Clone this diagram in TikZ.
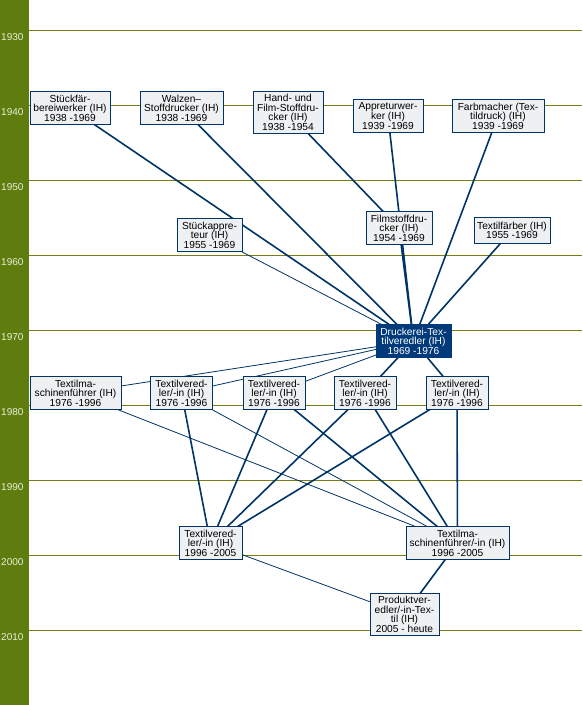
\documentclass[tikz,border=0pt]{standalone}
\usepackage{fontspec}
\setmainfont{Liberation Sans}
\usetikzlibrary{backgrounds}
\definecolor{barolive}{RGB}{95,125,15}
\definecolor{yearline}{RGB}{120,125,20}
\definecolor{yeartext}{RGB}{232,238,215}
\definecolor{jobblue}{RGB}{0,51,102}
\definecolor{jobfill}{RGB}{238,240,242}
\definecolor{mainjob}{RGB}{0,58,122}

\tikzset{
  job/.style={draw=jobblue, fill=jobfill, line width=0.8pt, align=center,
    inner xsep=2.5pt, inner ysep=3.2pt, font=\fontsize{10.2}{9.6}\selectfont},
  focusjob/.style={job, draw=mainjob, fill=mainjob, text=white},
  yearlabel/.style={anchor=west, inner sep=1pt, text=yeartext, font=\fontsize{10}{9.6}\selectfont},
  strong/.style={draw=jobblue, line width=1.6pt},
  weak/.style={draw=jobblue, line width=0.8pt},
}

\begin{document}
\begin{tikzpicture}[x=1pt, y=-1pt]
    \useasboundingbox (0,0) rectangle (582,705);

    % Year axis
    \foreach \yr [count=\i from 0] in {1930,1940,1950,1960,1970,1980,1990,2000,2010}
        \node[yearlabel] (y\yr) at (0,{37+75*\i}) {\yr};

    % Jobs 1938/1939
    \node[job, minimum width=80] (stueck) at (70,108) {Stückfär-\\bereiwerker (IH)\\1938 -1969};
    \node[job, minimum width=83] (walzen) at (181.5,108) {Walzen–\\Stoffdrucker (IH)\\1938 -1969};
    \node[job, minimum width=70] (handfilm) at (288,112.5) {Hand- und\\Film-Stoffdru-\\cker (IH)\\1938 -1954};
    \node[job, minimum width=70] (appretur) at (388,116) {Appreturwer-\\ker (IH)\\1939 -1969};
    \node[job, minimum width=92] (farbmacher) at (498,116) {Farbmacher (Tex-\\tildruck) (IH)\\1939 -1969};

    % Jobs 1954/1955
    \node[job, minimum width=65] (stueckapp) at (209.5,235) {Stückappre-\\teur (IH)\\1955 -1969};
    \node[job, minimum width=66] (filmstoff) at (399,228) {Filmstoffdru-\\cker (IH)\\1954 -1969};
    \node[job, minimum width=76, inner ysep=4.6pt] (faerber) at (512,230.5) {Textilfärber (IH)\\1955 -1969};

    % Druckerei-Textilveredler
    \node[focusjob, minimum width=75] (druckerei) at (413.5,341) {Druckerei-Tex-\\tilveredler (IH)\\1969 -1976};

    % Jobs 1976
    \node[job, minimum width=91] (tmf76) at (75.5,393) {Textilma-\\schinenführer (IH)\\1976 -1996};
    \node[job, minimum width=62] (tv1) at (181.5,393) {Textilvered-\\ler/-in (IH)\\1976 -1996};
    \node[job, minimum width=62] (tv2) at (274,393) {Textilvered-\\ler/-in (IH)\\1976 -1996};
    \node[job, minimum width=62] (tv3) at (365,393) {Textilvered-\\ler/-in (IH)\\1976 -1996};
    \node[job, minimum width=62] (tv4) at (457,393) {Textilvered-\\ler/-in (IH)\\1976 -1996};

    % Jobs 1996 and 2005
    \node[job, minimum width=63] (tv96) at (210.5,543) {Textilvered-\\ler/-in (IH)\\1996 -2005};
    \node[job, minimum width=103] (tmf96) at (457.5,543) {Textilma-\\schinenführer/-in (IH)\\1996 -2005};
    \node[job, minimum width=69] (produkt) at (404.5,614.5) {Produktver-\\edler/-in-Tex-\\til (IH)\\2005 - heute};

    \begin{pgfonlayer}{background}
        \fill[barolive] (0,0) rectangle (29,705);
        \foreach \i in {0,...,8}
            \draw[yearline, line width=0.8pt] (29,{30.5+75*\i}) -- (582,{30.5+75*\i});

        % Lines into 1969
        \draw[strong] (stueck.center) -- (druckerei.center);
        \draw[strong] (walzen.center) -- (druckerei.center);
        \draw[strong] (handfilm.center) -- (filmstoff.center);
        \draw[strong] (appretur.center) -- (druckerei.center);
        \draw[strong] (filmstoff.center) -- (druckerei.center);
        \draw[strong] (farbmacher.center) -- (druckerei.center);
        \draw[strong] (faerber.center) -- (druckerei.center);
        \draw[weak] (stueckapp.center) -- (druckerei.center);

        % Lines into 1976
        \draw[weak] (druckerei.center) -- (tmf76.center);
        \draw[weak] (druckerei.center) -- (tv1.center);
        \draw[weak] (druckerei.center) -- (tv2.center);
        \draw[strong] (druckerei.center) -- (tv3.center);
        \draw[strong] (druckerei.center) -- (tv4.center);

        % Lines into 1996
        \draw[weak] (tmf76.center) -- (tmf96.center);
        \draw[strong] (tv1.center) -- (tv96.center);
        \draw[weak] (tv1.center) -- (tmf96.center);
        \draw[strong] (tv2.center) -- (tv96.center);
        \draw[strong] (tv2.center) -- (tmf96.center);
        \draw[strong] (tv3.center) -- (tv96.center);
        \draw[strong] (tv3.center) -- (tmf96.center);
        \draw[strong] (tv4.center) -- (tv96.center);
        \draw[strong] (tv4.center) -- (tmf96.center);

        % Lines into 2005
        \draw[weak] (tv96.center) -- (produkt.center);
        \draw[strong] (tmf96.center) -- (produkt.center);
    \end{pgfonlayer}
\end{tikzpicture}
\end{document}
